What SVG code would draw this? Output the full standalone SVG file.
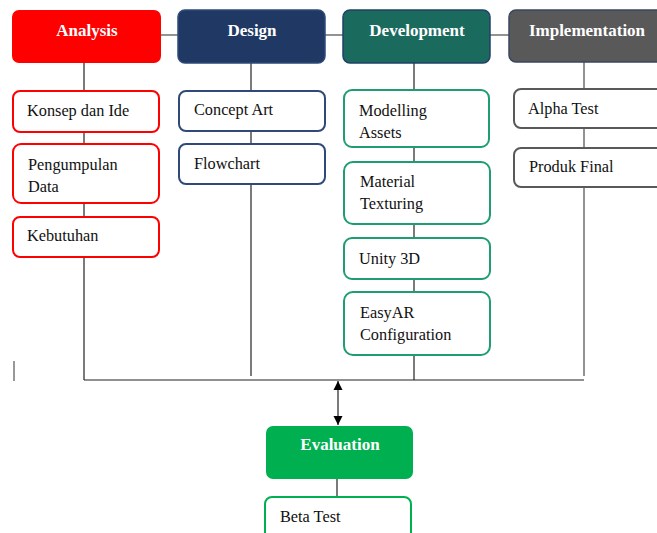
<svg xmlns="http://www.w3.org/2000/svg" width="657" height="533" viewBox="0 0 657 533">
<style>
.hd{font-family:"Liberation Serif","DejaVu Serif",serif;font-size:17px;font-weight:bold;fill:#fff;text-anchor:middle}
.tx{font-family:"Liberation Serif","DejaVu Serif",serif;font-size:16.3px;fill:#111}
.ln{stroke:#222;stroke-width:1.2;fill:none}
.hl{stroke:#595959;stroke-width:1.3;fill:none}
.red{fill:#fff;stroke:#FF0000;stroke-width:2}
.navy{fill:#fff;stroke:#2F4A78;stroke-width:2}
.grn{fill:#fff;stroke:#1F9C74;stroke-width:2}
.gry{fill:#fff;stroke:#595959;stroke-width:2}
.evg{fill:#fff;stroke:#00B050;stroke-width:2}
</style>
<defs>
<marker id="ah" viewBox="0 0 10 10" refX="10" refY="5" markerWidth="9" markerHeight="11" markerUnits="userSpaceOnUse" orient="auto-start-reverse">
<path d="M0,0 L10,5 L0,10 z" fill="#000"/>
</marker>
</defs>
<rect width="657" height="533" fill="#fff"/>
<g id="connectors">
<line class="hl" x1="161" y1="35" x2="178" y2="35"/>
<line class="hl" x1="325" y1="35" x2="343" y2="35"/>
<line class="hl" x1="490" y1="35" x2="509" y2="35"/>
<line class="ln" x1="84" y1="63" x2="84" y2="91"/>
<line class="ln" x1="84" y1="132" x2="84" y2="144"/>
<line class="ln" x1="84" y1="203" x2="84" y2="217"/>
<line class="ln" x1="84" y1="257" x2="84" y2="380"/>
<line class="ln" x1="251" y1="63" x2="251" y2="91"/>
<line class="ln" x1="251" y1="131" x2="251" y2="144"/>
<line class="ln" x1="251" y1="184" x2="251" y2="376"/>
<line class="ln" x1="414" y1="63" x2="414" y2="90"/>
<line class="ln" x1="414" y1="147" x2="414" y2="162"/>
<line class="ln" x1="414" y1="224" x2="414" y2="238"/>
<line class="ln" x1="414" y1="279" x2="414" y2="292"/>
<line class="ln" x1="414" y1="355" x2="414" y2="380"/>
<line class="hl" x1="584" y1="62" x2="584" y2="89"/>
<line class="hl" x1="584" y1="128" x2="584" y2="148"/>
<line class="hl" x1="584" y1="187" x2="584" y2="376"/>
<line class="ln" x1="84" y1="380" x2="584" y2="380" stroke-width="1.5"/>
<line x1="14" y1="361" x2="14" y2="381" stroke="#777" stroke-width="1.5"/>
<line class="ln" x1="338" y1="381" x2="338" y2="425" marker-start="url(#ah)" marker-end="url(#ah)"/>
<line class="ln" x1="337" y1="479" x2="337" y2="497"/>
</g>
<g id="analysis"><rect x="12" y="10" width="149" height="53" rx="7" fill="#FF0000"/><text class="hd" x="87" y="36">Analysis</text></g>
<g id="design"><rect x="178" y="10" width="147" height="53" rx="7" fill="#203864" stroke="#2F4A78" stroke-width="1.5"/><text class="hd" x="252" y="36">Design</text></g>
<g id="development"><rect x="343" y="10" width="147" height="53" rx="7" fill="#1B6A5E" stroke="#22406A" stroke-width="1.5"/><text class="hd" x="417" y="36">Development</text></g>
<g id="implementation"><rect x="509" y="10" width="160" height="52" rx="7" fill="#595959" stroke="#3A4660" stroke-width="1.5"/><text class="hd" x="587" y="36">Implementation</text></g>
<g id="konsep"><rect class="red" x="13" y="91" width="146" height="41" rx="7"/><text class="tx" x="27" y="116">Konsep dan Ide</text></g>
<g id="pengumpulan"><rect class="red" x="13" y="144" width="146" height="59" rx="8"/><text class="tx" x="28" y="170">Pengumpulan</text><text class="tx" x="28" y="192">Data</text></g>
<g id="kebutuhan"><rect class="red" x="13" y="217" width="146" height="40" rx="7"/><text class="tx" x="27" y="241">Kebutuhan</text></g>
<g id="concept-art"><rect class="navy" x="179" y="91" width="146" height="40" rx="7"/><text class="tx" x="194" y="115">Concept Art</text></g>
<g id="flowchart"><rect class="navy" x="179" y="144" width="146" height="40" rx="7"/><text class="tx" x="194" y="169">Flowchart</text></g>
<g id="modelling"><rect class="grn" x="344" y="90" width="145" height="57" rx="8"/><text class="tx" x="359" y="116">Modelling</text><text class="tx" x="359" y="138">Assets</text></g>
<g id="material"><rect class="grn" x="344" y="162" width="146" height="62" rx="9"/><text class="tx" x="360" y="187">Material</text><text class="tx" x="360" y="209">Texturing</text></g>
<g id="unity"><rect class="grn" x="344" y="238" width="146" height="41" rx="8"/><text class="tx" x="359" y="264">Unity 3D</text></g>
<g id="easyar"><rect class="grn" x="344" y="292" width="146" height="63" rx="9"/><text class="tx" x="360" y="318">EasyAR</text><text class="tx" x="360" y="340">Configuration</text></g>
<g id="alpha"><rect class="gry" x="514" y="89" width="150" height="39" rx="7"/><text class="tx" x="528" y="114">Alpha Test</text></g>
<g id="produk"><rect class="gry" x="514" y="148" width="150" height="39" rx="7"/><text class="tx" x="529" y="172">Produk Final</text></g>
<g id="evaluation"><rect x="266" y="426" width="147" height="53" rx="7" fill="#00B050"/><text class="hd" x="340" y="450">Evaluation</text></g>
<g id="beta"><rect class="evg" x="265" y="497" width="146" height="45" rx="7"/><text class="tx" x="280" y="522">Beta Test</text></g>
</svg>
